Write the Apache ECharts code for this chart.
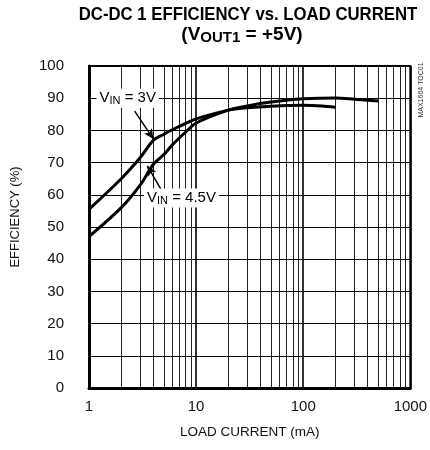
<!DOCTYPE html>
<html>
<head>
<meta charset="utf-8">
<script src="https://cdn.jsdelivr.net/npm/echarts@6/dist/echarts.min.js"></script>
<style>html,body{margin:0;padding:0;background:#fff;}#c{width:430px;height:450px;}</style>
</head>
<body>
<div id="c"></div>
<script>
// ---- data ----
const current3V = [1, 2, 3, 4, 5, 6, 8, 10, 20, 30, 50, 100, 150, 200];
const eff3V     = [55.5, 65, 71.5, 77, 78.8, 80.2, 82.2, 83.6, 86.3, 87, 87.5, 87.8, 87.6, 87.2];
const current45V = [1, 2, 3, 4, 5, 6, 8, 10, 20, 30, 50, 100, 200, 300, 500];
const eff45V     = [47, 56, 63, 69.5, 72.5, 75.5, 79.5, 82.3, 86.3, 87.6, 88.8, 89.8, 90.1, 89.7, 89.1];
const minorGridX = [2, 3, 4, 5, 6, 7, 8, 9, 20, 30, 40, 50, 60, 70, 80, 90, 200, 300, 400, 500, 600, 700, 800, 900];
const xRange = [1, 1000];
const yRange = [0, 100];
const yStep = 10;
const label3V = {text: 'V{s|IN} = 3V', at: [2.3, 90], arrowFrom: [2.67, 86], arrowTo: [4.0, 77.3]};
const label45V = {text: 'V{s|IN} = 4.5V', at: [7.3, 59], arrowFrom: [4.84, 61], arrowTo: [3.5, 69]};

const FONT = "'Liberation Sans', Arial, sans-serif";

function pairs(xs, ys) { return xs.map((x, i) => [x, ys[i]]); }

const richSub = {
  s: {fontFamily: FONT, fontSize: 11, verticalAlign: 'bottom', lineHeight: 12, color: '#000'}
};

function annot(a) {
  return {
    coord: a.at,
    symbol: 'circle',
    symbolSize: 1,
    itemStyle: {color: 'rgba(0,0,0,0)'},
    label: {
      show: true,
      position: 'inside',
      formatter: a.text,
      fontFamily: FONT,
      fontSize: 15,
      lineHeight: 17,
      color: '#000',
      backgroundColor: '#fff',
      padding: [1, 3, 1, 3],
      rich: richSub
    }
  };
}

const chart = echarts.init(document.getElementById('c'), null, {renderer: 'canvas'});
chart.setOption({
  animation: false,
  backgroundColor: '#fff',
  grid: {left: 89, right: 18, top: 66, bottom: 62, show: true, borderColor: '#000', borderWidth: 2},
  graphic: [
    {type: 'text', x: 248, y: 15, scaleX: 0.93, style: {text: 'DC-DC 1 EFFICIENCY vs. LOAD CURRENT', fontFamily: FONT, fontSize: 18, fontWeight: 'bold', fill: '#000', align: 'center', verticalAlign: 'middle', textAlign: 'center', textVerticalAlign: 'middle'}},
    {type: 'text', x: 242, y: 35, style: {text: '(V{s|OUT1} = +5V)', fontFamily: FONT, fontSize: 19, fontWeight: 'bold', lineHeight: 20, fill: '#000', align: 'center', verticalAlign: 'middle', textAlign: 'center', textVerticalAlign: 'middle',
      rich: {s: {fontFamily: FONT, fontSize: 15, fontWeight: 'bold', verticalAlign: 'bottom', lineHeight: 15, fill: '#000'}}}},
    {type: 'text', x: 421, y: 90, rotation: Math.PI / 2, style: {text: 'MAX1664 TOC01', fontFamily: FONT, fontSize: 7, fill: '#333', align: 'center', verticalAlign: 'middle', textAlign: 'center', textVerticalAlign: 'middle'}}
  ],
  xAxis: {
    type: 'log', logBase: 10, min: xRange[0], max: xRange[1],
    name: 'LOAD CURRENT (mA)', nameLocation: 'middle', nameGap: 37,
    nameTextStyle: {fontFamily: FONT, fontSize: 13.5, color: '#111'},
    axisLine: {show: true, onZero: false, lineStyle: {color: '#000', width: 3}},
    axisTick: {show: false},
    axisLabel: {fontFamily: FONT, fontSize: 15, color: '#111', margin: 11, formatter: v => String(Math.round(v))},
    splitLine: {show: true, lineStyle: {color: '#000', width: 1.6}}
  },
  yAxis: {
    type: 'value', min: yRange[0], max: yRange[1], interval: yStep,
    name: 'EFFICIENCY (%)', nameLocation: 'middle', nameGap: 67,
    nameTextStyle: {fontFamily: FONT, fontSize: 13, color: '#111', padding: [0, 0, 0, 20]},
    axisLine: {show: true, lineStyle: {color: '#000', width: 3}},
    axisTick: {show: false},
    axisLabel: {fontFamily: FONT, fontSize: 15, color: '#111', margin: 25},
    splitLine: {show: true, lineStyle: {color: '#000', width: 1}}
  },
  series: [
    {
      name: 'grid', type: 'line', data: [], silent: true,
      markLine: {
        silent: true, symbol: ['none', 'none'], label: {show: false},
        lineStyle: {color: '#222', width: 1, type: 'solid'},
        data: minorGridX.map(v => ({xAxis: v}))
      }
    },
    {
      name: 'VIN = 3V', type: 'line', data: pairs(current3V, eff3V),
      showSymbol: false, smooth: 0.3, z: 5,
      lineStyle: {color: '#000', width: 3},
      markPoint: {data: [annot(label3V)], z: 6},
      markLine: {
        silent: true, symbol: ['none', 'arrow'], symbolSize: [7, 10], label: {show: false},
        lineStyle: {color: '#000', width: 1.5, type: 'solid'},
        data: [[{coord: label3V.arrowFrom}, {coord: label3V.arrowTo}]]
      }
    },
    {
      name: 'VIN = 4.5V', type: 'line', data: pairs(current45V, eff45V),
      showSymbol: false, smooth: 0.3, z: 5,
      lineStyle: {color: '#000', width: 3},
      markPoint: {data: [annot(label45V)], z: 6},
      markLine: {
        silent: true, symbol: ['none', 'arrow'], symbolSize: [7, 10], label: {show: false},
        lineStyle: {color: '#000', width: 1.5, type: 'solid'},
        data: [[{coord: label45V.arrowFrom}, {coord: label45V.arrowTo}]]
      }
    }
  ]
});
</script>
</body>
</html>
